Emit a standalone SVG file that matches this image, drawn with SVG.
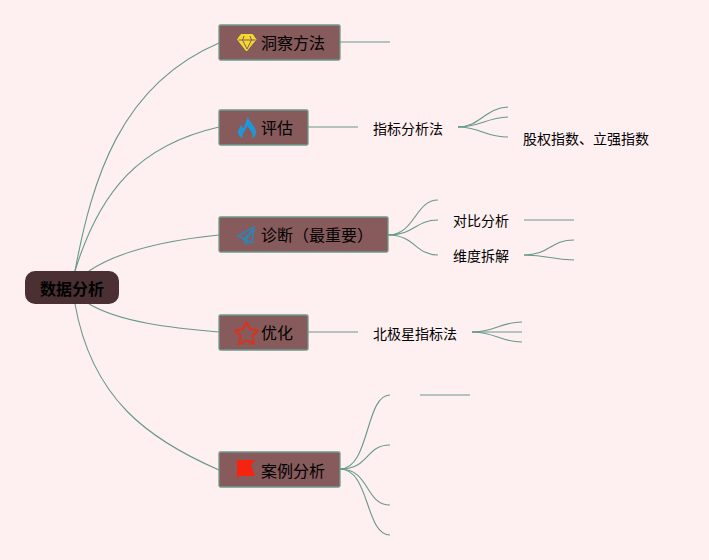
<svg xmlns="http://www.w3.org/2000/svg" width="709" height="560" viewBox="0 0 709 560">
<style>
text{font-family:"Noto Sans CJK SC","Liberation Sans",sans-serif;fill:#000}
.n{fill:#875a5c;stroke:#6f9a8c;stroke-width:1.300}
.t{font-size:16px}
.s{font-size:14px}
#connectors path{fill:none;stroke:#66998a;stroke-width:1.100}
</style>
<rect width="709" height="560" fill="#feeff0"/>
<g id="connectors">
<path d="M75 271C92 180 120 85 219 43"/>
<path d="M75 271C100 190 140 145 219 127"/>
<path d="M89 271C120 250 170 240 219 235"/>
<path d="M89 304C120 322 170 328 219 332"/>
<path d="M75 304C92 400 150 440 219 470"/>
<path d="M340 42H390"/>
<path d="M308 127H358"/>
<path d="M458 127C480 127 485 108 508 107"/>
<path d="M458 127C480 127 485 118 508 117"/>
<path d="M458 127C480 127 485 137 508 137"/>
<path d="M388 235C415 235 415 200 438 200"/>
<path d="M388 235C415 235 415 220 438 220"/>
<path d="M388 235C415 235 415 255 438 255"/>
<path d="M524 220H574"/>
<path d="M524 255C550 255 550 240 574 240"/>
<path d="M524 255C550 255 550 260 574 260"/>
<path d="M308 332H358"/>
<path d="M472 332C495 332 500 322 522 322"/>
<path d="M472 332H522"/>
<path d="M472 332C495 332 500 342 522 342"/>
<path d="M340 469C370 469 365 395 390 395"/>
<path d="M340 469C370 469 365 445 390 445"/>
<path d="M340 469C370 469 365 505 390 505"/>
<path d="M340 469C370 469 365 535 390 535"/>
<path d="M420 395H470"/>
</g>
<g id="root"><rect x="25" y="271" width="94" height="33" rx="10" fill="#4a3033"/><text x="72" y="295" text-anchor="middle" class="t" font-weight="700">数据分析</text></g>
<g id="node-insight"><rect class="n" x="219" y="25" width="121" height="35" rx="1.500"/>
<path d="M241 34.500h11.500l3.500 5-9.500 11.500L237.500 39.500z" fill="#f4d92e" stroke="#f4d92e" stroke-width="1"/><path d="M238.500 40h17M244 36l-1.500 4 4.500 9 4.500-9-1.500-4" fill="none" stroke="#875a5c" stroke-width="1"/>
<text x="261" y="49" class="t">洞察方法</text></g>
<g id="node-evaluate"><rect class="n" x="219" y="110" width="89" height="35" rx="1.500"/>
<path d="M248 117C249 122 256 126 256 132C256 135 255 137 252 138C254 133 250 130 247 126C246 131 241 133 243 138C240 137 238 135 238 132C238 129 240 127 241 125C242 127 243 128 244 128C245 124 246 120 248 117Z" fill="#2096d8"/>
<text x="261" y="134" class="t">评估</text></g>
<g id="node-diagnose"><rect class="n" x="219" y="217" width="169" height="35" rx="1.500"/>
<path d="M254 227L238 236L244 239L252 231L246 240L252 243ZM244 239L246 244L248 241" fill="none" stroke="#3183b0" stroke-width="1.800" stroke-linejoin="round"/>
<text x="261" y="241" class="t">诊断（最重要）</text></g>
<g id="node-optimize"><rect class="n" x="219" y="315" width="89" height="35" rx="1.500"/>
<path d="M246.500 322L250 329L258 330.500L252.500 336L253.800 344L246.500 340.300L239.200 344L240.500 336L235 330.500L243 329Z" fill="none" stroke="#d9321f" stroke-width="2" stroke-linejoin="round"/>
<text x="261" y="339" class="t">优化</text></g>
<g id="node-cases"><rect class="n" x="219" y="452" width="121" height="35" rx="1.500"/>
<path d="M237 460H255L251 465.500L255 476H238V479H237Z" fill="#f5230f"/>
<text x="261" y="477" class="t">案例分析</text></g>
<g id="labels">
<text x="373" y="134" class="s">指标分析法</text>
<text x="523" y="144" class="s">股权指数、立强指数</text>
<text x="453" y="226" class="s">对比分析</text>
<text x="453" y="261" class="s">维度拆解</text>
<text x="373" y="339" class="s">北极星指标法</text>
</g>
</svg>
